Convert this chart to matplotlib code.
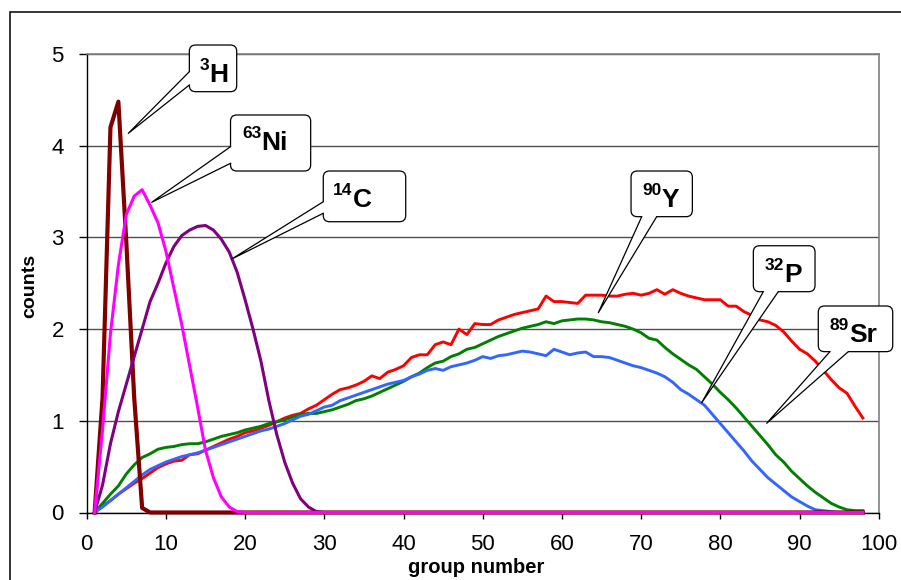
import numpy as np
import matplotlib.pyplot as plt
from matplotlib.patches import FancyBboxPatch, Polygon, Rectangle

plt.rcParams['font.family'] = ['Liberation Sans', 'DejaVu Sans']

groups = np.arange(1, 99)

# counts per group
h3 = [0, 1.25, 4.2, 4.48, 2.95, 1.25, 0.05]
ni63 = [0, 0.9, 1.95, 2.7, 3.25, 3.45, 3.52, 3.35, 3.16, 2.85,
        2.45, 2.05, 1.6, 1.15, 0.68, 0.38, 0.17, 0.06, 0.01]
c14 = [0, 0.3, 0.75, 1.1, 1.4, 1.7, 2.0, 2.3, 2.5, 2.72,
       2.9, 3.02, 3.08, 3.12, 3.13, 3.08, 2.98, 2.84, 2.62, 2.32,
       2.0, 1.65, 1.22, 0.85, 0.55, 0.32, 0.15, 0.06, 0.01]
y90 = [0, 0.07, 0.13, 0.2, 0.26, 0.32, 0.37, 0.43, 0.49, 0.53,
       0.56, 0.57, 0.63, 0.64, 0.68, 0.72, 0.76, 0.8, 0.83, 0.87,
       0.89, 0.92, 0.95, 0.99, 1.03, 1.06, 1.08, 1.13, 1.17, 1.23,
       1.29, 1.34, 1.36, 1.39, 1.43, 1.49, 1.46, 1.53, 1.56, 1.6,
       1.69, 1.72, 1.72, 1.83, 1.86, 1.83, 2.0, 1.94, 2.06, 2.05,
       2.05, 2.1, 2.13, 2.16, 2.18, 2.2, 2.22, 2.36, 2.3, 2.3,
       2.29, 2.28, 2.37, 2.37, 2.37, 2.36, 2.36, 2.38, 2.39, 2.37,
       2.39, 2.43, 2.38, 2.43, 2.39, 2.36, 2.34, 2.32, 2.32, 2.32,
       2.25, 2.25, 2.19, 2.15, 2.1, 2.08, 2.04, 1.97, 1.87, 1.78,
       1.73, 1.65, 1.55, 1.45, 1.36, 1.3, 1.16, 1.03]
p32 = [0, 0.1, 0.2, 0.29, 0.42, 0.52, 0.6, 0.64, 0.69, 0.71,
       0.72, 0.74, 0.75, 0.75, 0.77, 0.8, 0.83, 0.85, 0.87, 0.9,
       0.92, 0.94, 0.97, 0.99, 1.01, 1.04, 1.07, 1.08, 1.08, 1.1,
       1.12, 1.15, 1.18, 1.22, 1.24, 1.27, 1.31, 1.35, 1.39, 1.43,
       1.48, 1.52, 1.58, 1.63, 1.65, 1.7, 1.73, 1.78, 1.8, 1.84,
       1.88, 1.92, 1.95, 1.98, 2.01, 2.03, 2.05, 2.08, 2.06, 2.09,
       2.1, 2.11, 2.11, 2.1, 2.08, 2.07, 2.05, 2.03, 2.0, 1.96,
       1.9, 1.88, 1.8, 1.73, 1.67, 1.61, 1.56, 1.48, 1.4, 1.31,
       1.23, 1.14, 1.04, 0.94, 0.84, 0.74, 0.63, 0.55, 0.45, 0.37,
       0.29, 0.22, 0.16, 0.1, 0.06, 0.03, 0.02, 0.02]
sr89 = [0, 0.06, 0.13, 0.2, 0.27, 0.34, 0.41, 0.47, 0.51, 0.55,
        0.58, 0.61, 0.63, 0.65, 0.68, 0.71, 0.74, 0.77, 0.8, 0.83,
        0.86, 0.89, 0.91, 0.94, 0.97, 1.01, 1.05, 1.07, 1.11, 1.15,
        1.17, 1.22, 1.25, 1.28, 1.31, 1.34, 1.37, 1.4, 1.42, 1.44,
        1.48, 1.51, 1.55, 1.57, 1.55, 1.59, 1.61, 1.63, 1.66, 1.7,
        1.68, 1.71, 1.72, 1.74, 1.76, 1.75, 1.73, 1.71, 1.78, 1.75,
        1.72, 1.74, 1.75, 1.7, 1.7, 1.69, 1.66, 1.63, 1.6, 1.58,
        1.55, 1.52, 1.48, 1.42, 1.34, 1.29, 1.23, 1.17, 1.07, 0.97,
        0.87, 0.77, 0.67, 0.56, 0.47, 0.38, 0.31, 0.24, 0.17, 0.12,
        0.07, 0.03, 0.02, 0.01]


def pad(vals):
    return np.concatenate([vals, np.zeros(len(groups) - len(vals))])


# callout layout: box (x0, y0, x1, y1), wedge base points, tip, text anchor
sups = ["3", "63", "14", "90", "32", "89"]
elems = ["H", "Ni", "C", "Y", "P", "Sr"]
boxes = [(12.96, 4.589, 18.94, 5.098), (18.16, 3.724, 28.28, 4.335),
         (29.87, 3.171, 40.28, 3.724), (68.73, 3.226, 76.47, 3.724),
         (84.17, 2.408, 91.96, 2.909), (92.37, 1.754, 101.77, 2.252)]
bases = [((12.96, 4.807), (12.96, 4.662)), ((18.16, 3.989), (18.16, 3.808)),
         ((29.87, 3.389), (29.87, 3.263)), ((70.08, 3.226), (71.97, 3.226)),
         ((85.43, 2.408), (87.32, 2.408)), ((93.84, 1.754), (96.16, 1.754))]
tips = [(5.25, 4.135), (8.21, 3.383), (18.31, 2.764),
        (64.60, 2.179), (77.65, 1.197), (85.86, 0.973)]
anchors = [(15.5, 4.698), (22.1, 3.953), (33.6, 3.335),
           (72.6, 3.335), (88.1, 2.517), (96.3, 1.863)]

fig = plt.figure(figsize=(9.01, 5.80), dpi=100)
ax = fig.add_axes([86.7 / 901, 1 - 512.5 / 580, 792 / 901, 458.5 / 580])

fig.patches.append(Rectangle((9.5 / 901, -0.1), 1.2, 1.1 - 12 / 580,
                             transform=fig.transFigure, fill=False,
                             edgecolor="black", linewidth=1.1))

series = [(y90, "#ff0000", 2.1), (p32, "#008000", 2.1), (sr89, "#3366ff", 2.1),
          (h3, "#800000", 3.0), (c14, "#800080", 2.2), (ni63, "#ff00ff", 2.2)]
for vals, col, lw in series:
    ax.plot(groups, pad(vals), color=col, linewidth=lw, clip_on=False,
            solid_joinstyle="round", zorder=3)

ax.set_xlim(0, 100)
ax.set_ylim(0, 5)
ax.set_xticks(range(0, 101, 10))
ax.set_yticks(range(0, 6))
ax.yaxis.grid(True, color="#505050", linewidth=1.0)
ax.set_axisbelow(True)
ax.tick_params(axis="x", length=4.5, width=1, pad=11, labelsize=16)
ax.tick_params(axis="y", length=5.5, width=1, pad=11, labelsize=16)
for side in ["top", "right"]:
    ax.spines[side].set_color("#808080")
    ax.spines[side].set_linewidth(1.2)
for side in ["left", "bottom"]:
    ax.spines[side].set_color("black")
    ax.spines[side].set_linewidth(1.0)

fig.text(476 / 901, 1 - 573 / 580, "group number", ha="center", va="baseline",
         fontsize=14.5, fontweight="bold")
fig.text(30 / 901, 1 - 286 / 580, "counts", ha="center", va="center",
         rotation=90, fontsize=14, fontweight="bold")

aspect = (91.7 / 7.92) ** -1
for sup, el, (x0, y0, x1, y1), (b1, b2), tip, (tx, ty) in zip(
        sups, elems, boxes, bases, tips, anchors):
    box = FancyBboxPatch((x0, y0), x1 - x0, y1 - y0,
                         boxstyle="round,pad=0,rounding_size=0.8",
                         mutation_aspect=aspect, facecolor="white",
                         edgecolor="black", linewidth=0.9, clip_on=False,
                         zorder=5)
    ax.add_patch(box)
    cx, cy = (x0 + x1) / 2, (y0 + y1) / 2
    b1i = (b1[0] + (cx - b1[0]) * 0.1, b1[1] + (cy - b1[1]) * 0.1)
    b2i = (b2[0] + (cx - b2[0]) * 0.1, b2[1] + (cy - b2[1]) * 0.1)
    ax.add_patch(Polygon([b1i, b1, tip, b2, b2i], closed=True,
                         facecolor="white", edgecolor="none",
                         clip_on=False, zorder=6))
    ax.plot([b1[0], tip[0], b2[0]], [b1[1], tip[1], b2[1]], color="black",
            linewidth=0.9, clip_on=False, zorder=7)
    ax.text(tx, ty, el, ha="left", va="baseline", fontsize=19,
            fontweight="bold", zorder=8)
    ax.annotate(sup, xy=(tx, ty), xytext=(-0.3, 8.5),
                textcoords="offset points", ha="right", va="baseline",
                fontsize=12.5, fontweight="bold", zorder=8)

fig.savefig("out.png", dpi=100)
